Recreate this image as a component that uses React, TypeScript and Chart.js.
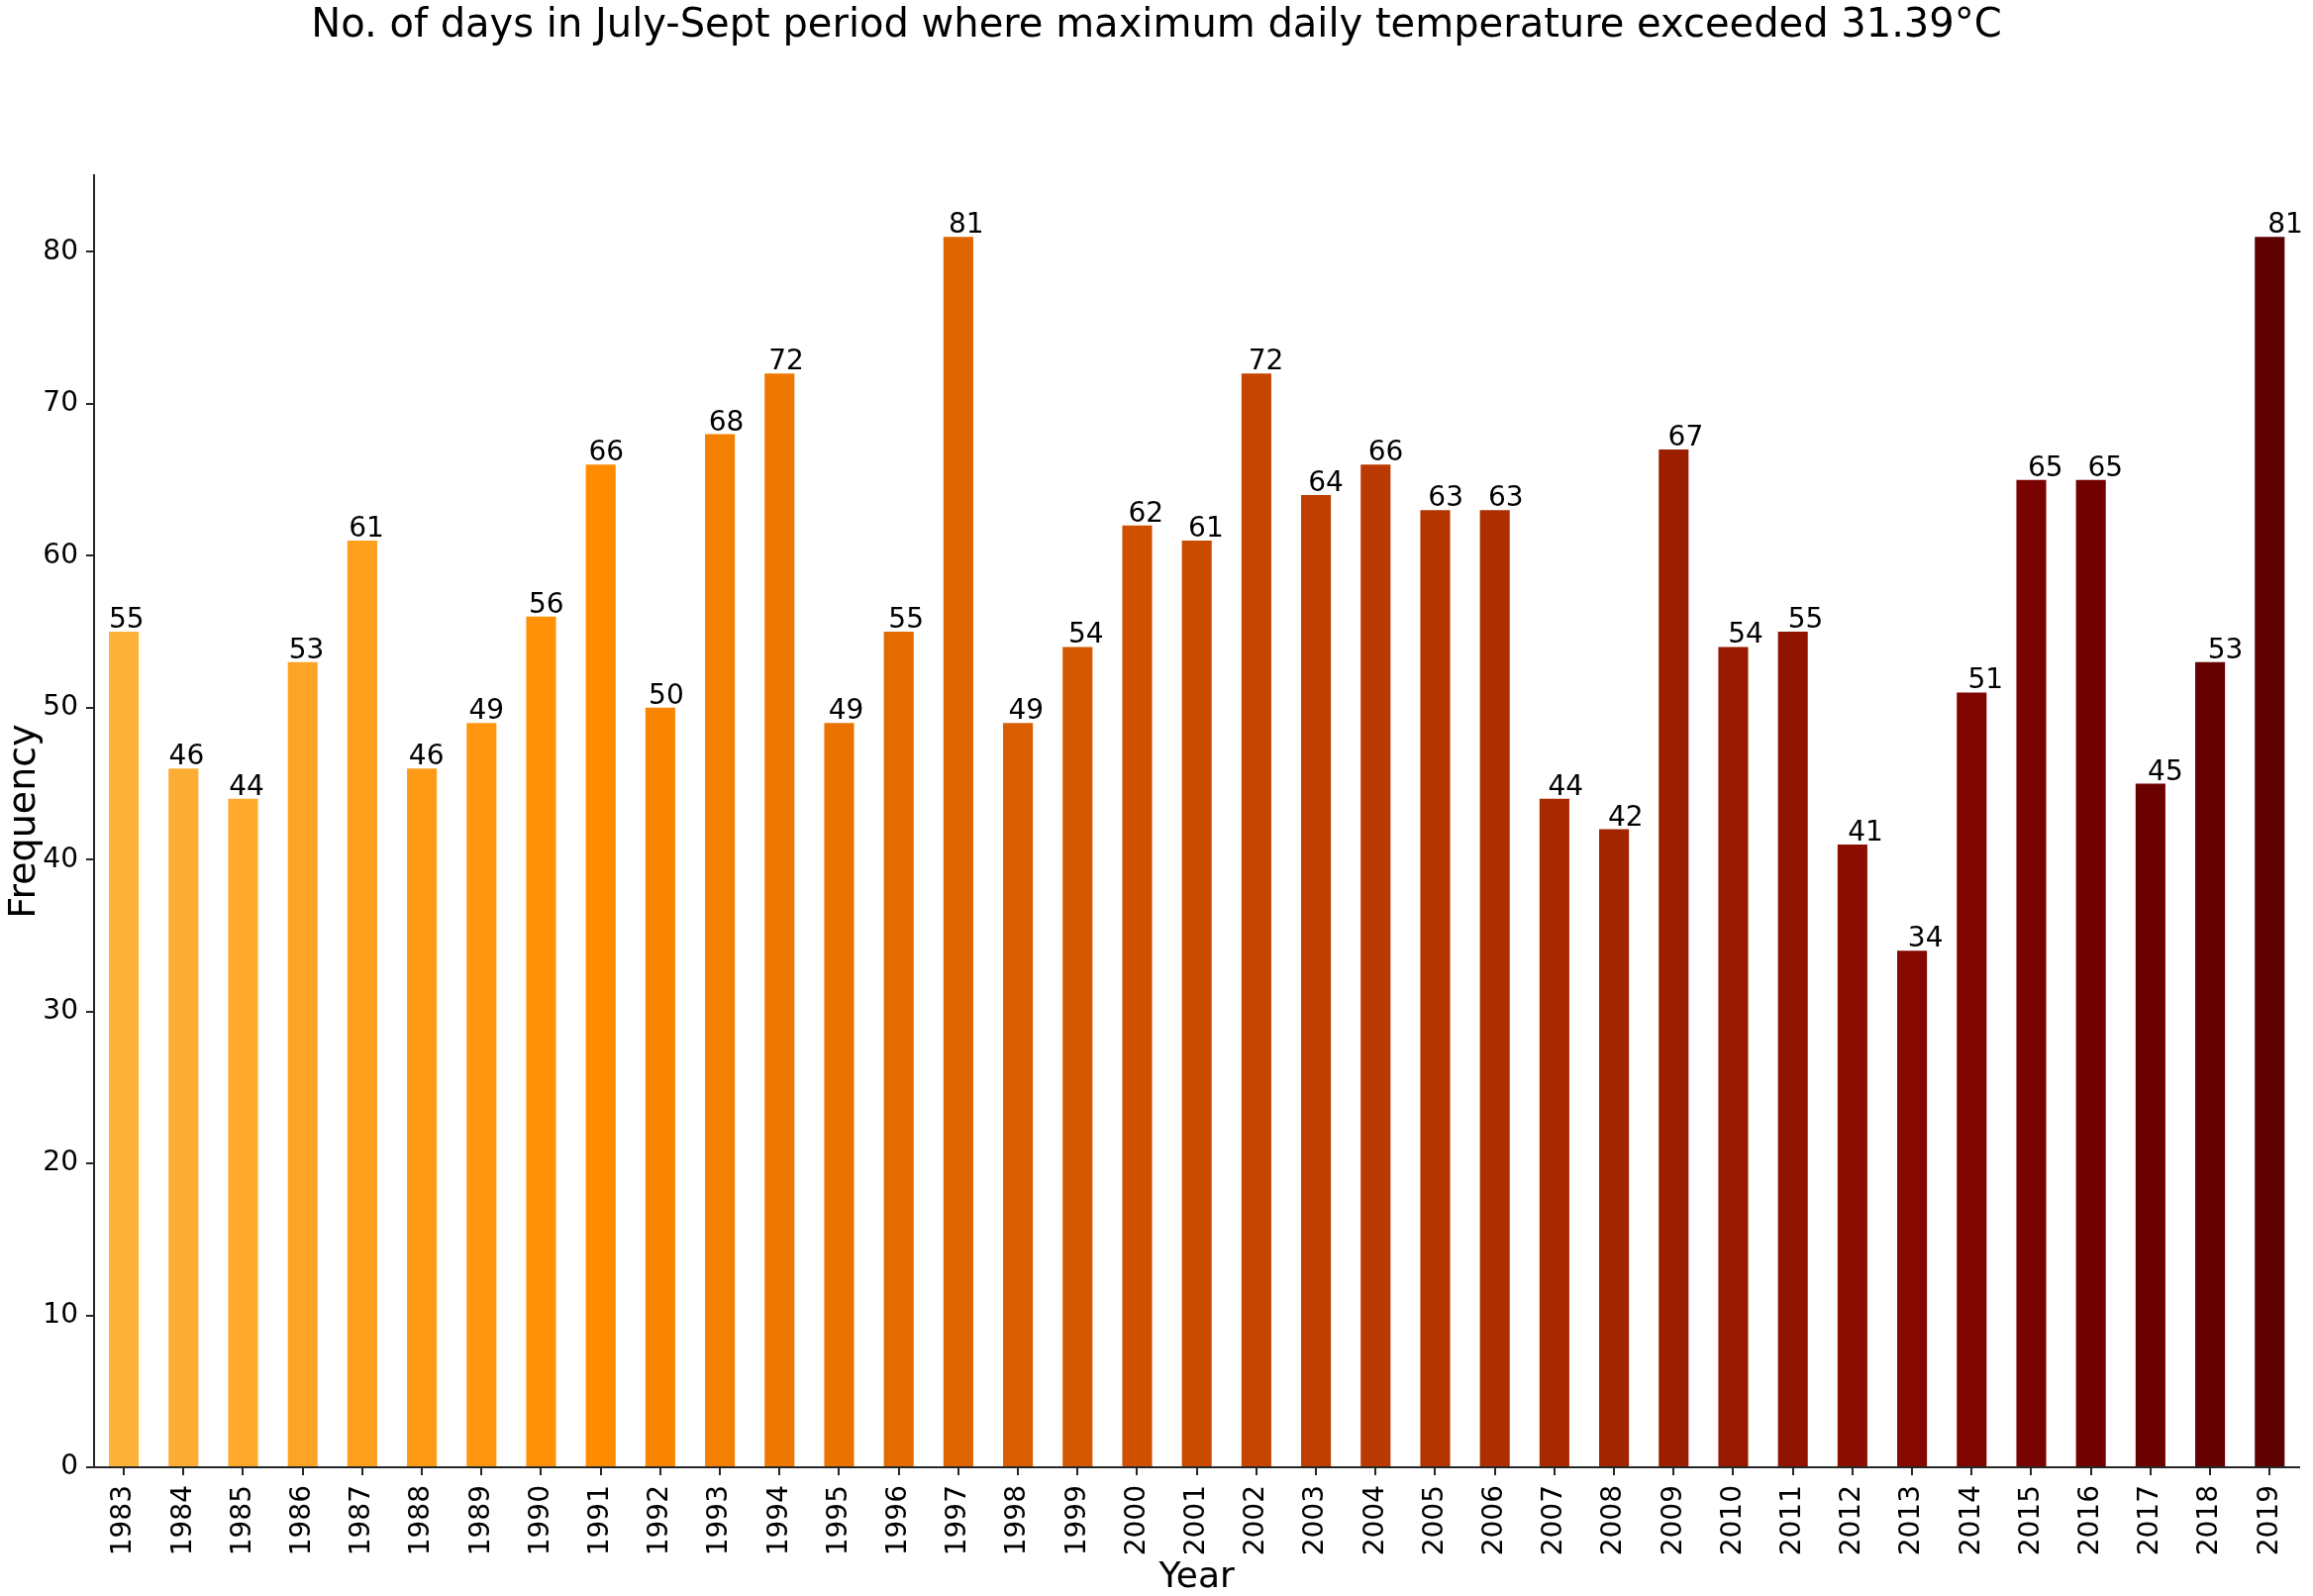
import { useEffect, useRef } from "react"
import { Chart, registerables } from "chart.js"

Chart.register(...registerables)

const years = [
  "1983", "1984", "1985", "1986", "1987", "1988", "1989", "1990", "1991", "1992",
  "1993", "1994", "1995", "1996", "1997", "1998", "1999", "2000", "2001", "2002",
  "2003", "2004", "2005", "2006", "2007", "2008", "2009", "2010", "2011", "2012",
  "2013", "2014", "2015", "2016", "2017", "2018", "2019",
]

const hotDays = [
  55, 46, 44, 53, 61, 46, 49, 56, 66, 50,
  68, 72, 49, 55, 81, 49, 54, 62, 61, 72,
  64, 66, 63, 63, 44, 42, 67, 54, 55, 41,
  34, 51, 65, 65, 45, 53, 81,
]

const yTicks = [0, 10, 20, 30, 40, 50, 60, 70, 80]

const TITLE = "No. of days in July-Sept period where maximum daily temperature exceeded 31.39\u00b0C"
const FONT = "'DejaVu Sans', sans-serif"
const AXIS_COLOR = "#262626"

// colour ramp, light orange -> dark red, picked by bar index
const colorStops: [number, [number, number, number]][] = [
  [0, [253, 178, 58]],
  [8, [255, 140, 0]],
  [19, [196, 68, 0]],
  [31, [128, 4, 0]],
  [36, [94, 0, 0]],
]

function barColor(i: number) {
  for (let s = 0; s < colorStops.length - 1; s++) {
    const [a, ca] = colorStops[s]
    const [b, cb] = colorStops[s + 1]
    if (i >= a && i <= b) {
      const t = (i - a) / (b - a)
      const c = ca.map((v, k) => Math.round(v + (cb[k] - v) * t))
      return `rgb(${c[0]}, ${c[1]}, ${c[2]})`
    }
  }
  return "rgb(94, 0, 0)"
}

const textPlugin = {
  id: "textPlugin",
  afterDatasetsDraw(chart: any) {
    const { ctx, chartArea } = chart
    const meta = chart.getDatasetMeta(0)
    ctx.save()
    ctx.fillStyle = "#000"

    // value labels, sitting just above the left part of each bar
    ctx.font = `28px ${FONT}`
    ctx.textAlign = "left"
    ctx.textBaseline = "alphabetic"
    meta.data.forEach((bar: any, i: number) => {
      const left = bar.x - bar.width / 2
      ctx.fillText(String(hotDays[i]), left + i * 0.36, bar.y - 4)
    })

    // title
    ctx.font = `40px ${FONT}`
    ctx.textAlign = "center"
    ctx.fillText(TITLE, 1168, 37)

    // axis titles
    ctx.font = `36px ${FONT}`
    ctx.fillText("Year", (chartArea.left + chartArea.right) / 2, 1603)
    ctx.translate(35, (chartArea.top + chartArea.bottom) / 2)
    ctx.rotate(-Math.PI / 2)
    ctx.font = `38px ${FONT}`
    ctx.fillText("Frequency", 0, 0)
    ctx.restore()
  },
}

export default function App() {
  const canvasRef = useRef<HTMLCanvasElement>(null)

  useEffect(() => {
    document.body.style.margin = "0"
    if (!canvasRef.current) return

    const chart = new Chart(canvasRef.current, {
      type: "bar",
      data: {
        labels: years,
        datasets: [
          {
            label: "Frequency",
            data: hotDays,
            backgroundColor: hotDays.map((_, i) => barColor(i)),
            barPercentage: 0.5,
            categoryPercentage: 1.0,
          },
        ],
      },
      options: {
        responsive: false,
        animation: false,
        devicePixelRatio: 1,
        layout: { padding: { top: 177, right: 9, left: 0, bottom: 0 } },
        plugins: {
          legend: { display: false },
          tooltip: { enabled: false },
          title: { display: false },
        },
        scales: {
          x: {
            offset: true,
            grid: {
              offset: false,
              drawOnChartArea: false,
              drawTicks: true,
              tickLength: 8,
              lineWidth: 2,
              color: AXIS_COLOR,
            },
            border: { display: true, color: AXIS_COLOR, width: 2 },
            ticks: {
              color: "#000",
              font: { family: FONT, size: 28 },
              minRotation: 90,
              maxRotation: 90,
              autoSkip: false,
              padding: 10,
            },
            afterFit(scale: any) {
              scale.height = 130
            },
          },
          y: {
            min: 0,
            max: 85.05,
            grid: {
              drawOnChartArea: false,
              drawTicks: true,
              tickLength: 8,
              lineWidth: 2,
              color: AXIS_COLOR,
            },
            border: { display: true, color: AXIS_COLOR, width: 2 },
            ticks: {
              color: "#000",
              font: { family: FONT, size: 28 },
              padding: 8,
              includeBounds: false,
              stepSize: 10,
            },
            afterBuildTicks(scale: any) {
              scale.ticks = yTicks.map((v) => ({ value: v }))
            },
            afterFit(scale: any) {
              scale.width = 95
            },
          },
        },
      },
      plugins: [textPlugin],
    })

    return () => {
      chart.destroy()
    }
  }, [])

  return (
    <div style={{ width: 2336, height: 1612, background: "#fff" }}>
      <canvas ref={canvasRef} width={2336} height={1612} />
    </div>
  )
}
